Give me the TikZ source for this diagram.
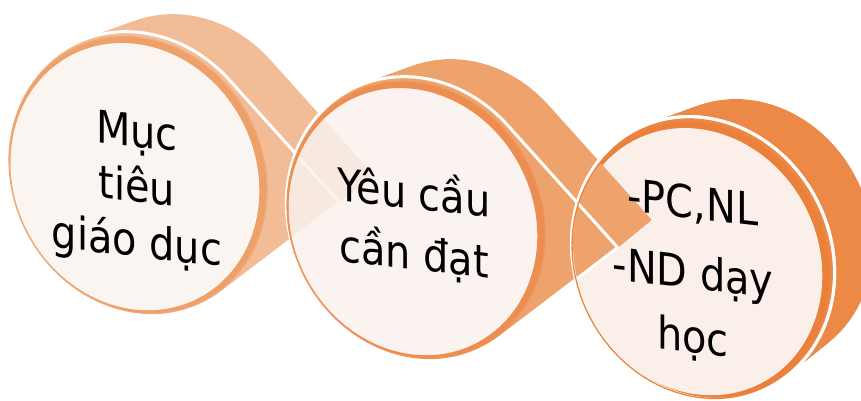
\documentclass[tikz,border=0pt]{standalone}
\usepackage{fontspec}
\setmainfont{DejaVu Sans}
\definecolor{bandA}{RGB}{242,188,150}
\definecolor{bandB}{RGB}{239,163,108}
\definecolor{bandC}{RGB}{236,137,70}
\definecolor{rimA}{RGB}{238,160,105}
\definecolor{rimB}{RGB}{236,142,82}
\definecolor{rimC}{RGB}{234,128,58}
\definecolor{rimlineA}{RGB}{240,168,118}
\definecolor{rimlineB}{RGB}{237,148,90}
\definecolor{rimlineC}{RGB}{235,132,64}
\definecolor{faceA}{RGB}{250,245,241}
\definecolor{faceB}{RGB}{250,242,237}
\definecolor{faceC}{RGB}{250,239,233}
\newcommand{\TearShape}[3]{%
  \pgfmathsetmacro\tgam{acos(145/#2)}%
  \pgfmathsetmacro\tsa{#1+\tgam}%
  \pgfmathsetmacro\tea{#1+360-\tgam}%
  \path[#3] (#1:#2) -- (\tsa:145) arc[start angle=\tsa, end angle=\tea, radius=145] -- cycle;}
\tikzset{
  locA/.style={shift={(140,173)}, rotate=28, xscale=0.88},
  locB/.style={shift={(418,218)}, rotate=28, xscale=0.88},
  locC/.style={shift={(703,258)}, rotate=28, xscale=0.88},
  faceLocA/.style={shift={(138,175)}, rotate=28, xscale=0.88},
  faceLocB/.style={shift={(416,220)}, rotate=28, xscale=0.88},
  faceLocC/.style={shift={(701,260)}, rotate=28, xscale=0.88},
  sweep/.style={shift={({#1*46/30},{-#1*26/30})}},
  shrink/.style={scale={1-#1*0.06/30}},
  txt/.style={align=center, xscale=0.885, yslant=-0.1, inner sep=0pt, text=black}
}
\begin{document}
\begin{tikzpicture}[x=1pt,y=-1pt]
\useasboundingbox (0,0) rectangle (861,401);
\clip (0,0) rectangle (861,401);
% ---------- element 3 ----------
\foreach \k in {0,...,30}{
  \begin{scope}[sweep=\k, locC, shrink=\k]
    \fill[bandC] (0,0) circle (145);
  \end{scope}}
\begin{scope}[locC]
  \path[fill=bandC, draw=white, line width=3] (0,0) circle (145);
\end{scope}
\begin{scope}[faceLocC]
  \fill[rimC, even odd rule] (0,0) circle (142) (-4,0) circle (137);
  \fill[faceC] (-4,0) circle (137);
  \draw[rimlineC, line width=1.3] (0,0) circle (142);
\end{scope}
% ---------- element 1 ----------
\foreach \k in {0,...,30}{
  \begin{scope}[sweep=\k, locA, shrink=\k]
    \TearShape{33}{220}{fill=bandA}
  \end{scope}}
\begin{scope}[locA]
  \TearShape{33}{220}{fill=bandA, draw=white, line width=3}
\end{scope}
\begin{scope}[faceLocA]
  \fill[rimA, even odd rule] (0,0) circle (142) (-4,0) circle (137);
  \fill[faceA] (-4,0) circle (137);
  \draw[rimlineA, line width=1.3] (0,0) circle (142);
\end{scope}
% ---------- element 2 ----------
\foreach \k in {0,...,30}{
  \begin{scope}[sweep=\k, locB, shrink=\k]
    \TearShape{33}{220}{fill=bandB}
  \end{scope}}
\begin{scope}[locB]
  \TearShape{33}{220}{fill=bandB, draw=white, line width=3}
\end{scope}
\begin{scope}
  \clip[faceLocB] (0,0) circle (142);
  \fill[white, faceLocB] (0,0) circle (143);
  \foreach \k in {0,...,30}{
    \begin{scope}[sweep=\k, locA, shrink=\k]
      \TearShape{33}{220}{fill=bandA}
    \end{scope}}
  \begin{scope}[locA]
    \TearShape{33}{220}{fill=bandA, draw=white, line width=3}
  \end{scope}
  \begin{scope}[faceLocB]
    \fill[faceB, opacity=0.85] (-4,0) circle (137);
    \fill[rimB, even odd rule] (0,0) circle (142) (-4,0) circle (137);
  \end{scope}
\end{scope}
\begin{scope}[faceLocB]
  \draw[rimlineB, line width=1.3] (0,0) circle (142);
\end{scope}
% outline of element 3 lies over the tip of element 2
\begin{scope}[locC]
  \draw[white, line width=3] (0,0) circle (145);
\end{scope}
\begin{scope}[faceLocC]
  \draw[rimlineC, line width=1.3] (0,0) circle (142);
\end{scope}
% ---------- texts ----------
\node[txt, font=\fontsize{45}{55}\selectfont] (t1) at (137,190) {Mục\\tiêu\\giáo dục};
\node[txt, font=\fontsize{45}{61}\selectfont] (t2) at (414,224.5) {Yêu cầu\\cần đạt};
\node[txt, font=\fontsize{45}{64}\selectfont] (t3) at (693,273) {-PC,NL\\[6pt]-ND dạy\\học};
\end{tikzpicture}
\end{document}
